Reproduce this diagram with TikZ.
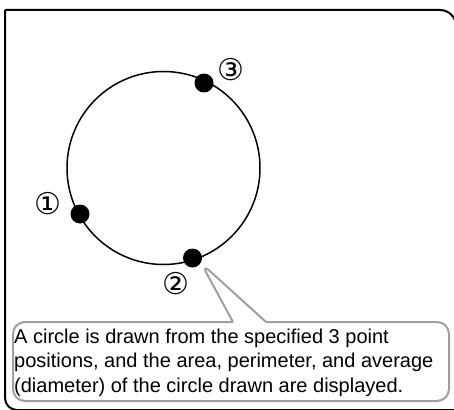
\documentclass[tikz,border=0pt]{standalone}
\usepackage{fontspec}
\setmainfont{Liberation Sans}
\newfontfamily\symfont{DejaVu Sans}
\begin{document}
\begin{tikzpicture}[x=1pt,y=-1pt,
  frame/.style={draw=black,line width=2pt},
  callout/.style={draw=gray!75,line width=2pt,rounded corners=12pt},
  dot/.style={circle,fill=black,inner sep=0pt,minimum size=19pt},
  num/.style={font=\symfont\fontsize{30}{30}\selectfont,inner sep=0pt},
  txt/.style={align=left,font=\fontsize{20}{24.5}\selectfont,inner sep=0pt,anchor=north west}]
\useasboundingbox (0,0) rectangle (454,409);
\clip (0,0) rectangle (454,409);
% outer frame
\draw[frame] (5,10) -- (440,10) arc[start angle=-90,end angle=0,radius=16] -- (456,420)
  (5,10) -- (5,398) arc[start angle=180,end angle=90,radius=12] -- (456,410);
% circle
\coordinate (c) at (163.5,168);
\draw[line width=1.5pt] (c) circle[radius=96.5];
\node[dot] (p1) at (80,214) {};
\node[dot] (p2) at (192.5,258) {};
\node[dot] (p3) at (204,83) {};
\node[num] (l1) at (48,204) {①};
\node[num] (l2) at (176,284) {②};
\node[num] (l3) at (231,70) {③};
% callout
\coordinate (tip) at (201,263);
\draw[callout] (233,322) -- (tip) -- (266,322);
\draw[callout] (233,322) -- (13,322) -- (13,401) -- (449,401) -- (449,322) -- (266,322);
\node[txt] (t) at (14,328.5) {A circle is drawn from the specified 3 point\\positions, and the area, perimeter, and average\\(diameter) of the circle drawn are displayed.};
\end{tikzpicture}
\end{document}
